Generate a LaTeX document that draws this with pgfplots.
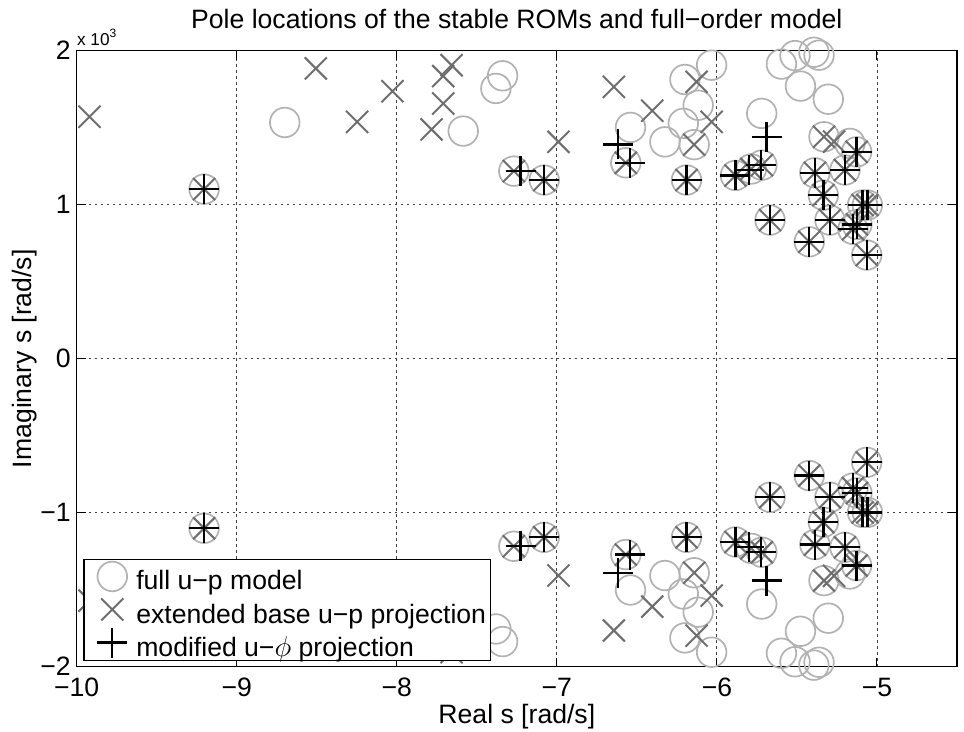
\documentclass[border=0pt]{standalone}
\usepackage{pgfplots}
\pgfplotsset{compat=1.18}
\usepackage{fontspec}
\setmainfont{Liberation Sans}
\definecolor{circgray}{gray}{0.70}
\definecolor{xgray}{gray}{0.43}
\begin{document}
\begin{tikzpicture}
\path[use as bounding box] (-38.35pt,-32.65pt) rectangle (443.65pt,333.35pt);
\begin{axis}[
  at={(0,0)}, anchor=south west,
  scale only axis, width=440.15pt, height=308pt,
  xmin=-10, xmax=-4.5, ymin=-2, ymax=2,
  xtick={-10,-9,-8,-7,-6,-5}, xticklabels={−10,−9,−8,−7,−6,−5},
  ytick={-2,-1,0,1,2}, yticklabels={−2,−1,0,1,2},
  tick align=inside, major tick length=4.5pt,
  tick style={black, line width=0.5pt},
  axis line style={black, line width=0.8pt},
  grid=major,
  major grid style={black!75, line width=0.45pt, dash pattern=on 1.3pt off 1.7pt},
  clip=false,
  ticklabel style={font=\fontsize{13.3}{15}\selectfont, inner sep=0pt},
  xticklabel style={anchor=north, yshift=-5.5pt},
  yticklabel style={anchor=east, xshift=-2.8pt},
  xlabel={Real s [rad/s]},
  xlabel style={at={(0.5,-0.0601)}, anchor=north, inner sep=0pt, font=\fontsize{13.3}{15}\selectfont},
  ylabel={Imaginary s [rad/s]},
  ylabel style={at={(-0.0451,0.5)}, anchor=south, inner sep=0pt, font=\fontsize{13.3}{15}\selectfont},
  legend cell align=left,
  legend style={at={(0.0075,0.0097)}, anchor=south west, draw=black, line width=0.6pt,
    fill=white, font=\fontsize{13.3}{15}\selectfont, inner xsep=2.2pt, inner ysep=0.35pt,
    row sep=0pt, nodes={inner sep=0pt},
    /tikz/every even column/.append style={column sep=0.8pt}},
  legend image code/.code={\path[draw=none,fill=none] (0pt,-5.55pt) rectangle (24pt,10.95pt); \draw[#1] plot coordinates {(12pt,2.7pt)};},
]
\addplot[only marks, mark=o, mark size=7.4pt, circgray, line width=0.85pt] table {
x y
-9.204 1.101
-8.700 1.534
-7.585 1.478
-7.381 1.755
-7.339 1.837
-7.269 1.218
-7.079 1.160
-6.540 1.502
-6.569 1.272
-6.325 1.408
-6.210 1.528
-6.142 1.390
-6.117 1.646
-6.200 1.813
-6.033 1.906
-6.190 1.160
-5.720 1.593
-5.597 1.913
-5.512 1.968
-5.394 1.990
-5.362 1.971
-5.478 1.770
-5.304 1.685
-5.884 1.190
-5.785 1.232
-5.719 1.257
-5.331 1.441
-5.169 1.398
-5.127 1.343
-5.388 1.207
-5.200 1.225
-5.335 1.062
-5.090 0.998
-5.060 0.998
-5.294 0.900
-5.150 0.840
-5.125 0.872
-5.423 0.759
-5.064 0.673
-5.668 0.900
-9.204 -1.101
-8.700 -1.534
-7.585 -1.478
-7.381 -1.755
-7.339 -1.837
-7.269 -1.218
-7.079 -1.160
-6.540 -1.502
-6.569 -1.272
-6.325 -1.408
-6.210 -1.528
-6.142 -1.390
-6.117 -1.646
-6.200 -1.813
-6.033 -1.906
-6.190 -1.160
-5.720 -1.593
-5.597 -1.913
-5.512 -1.968
-5.394 -1.990
-5.362 -1.971
-5.478 -1.770
-5.304 -1.685
-5.884 -1.190
-5.785 -1.232
-5.719 -1.257
-5.331 -1.441
-5.169 -1.398
-5.127 -1.343
-5.388 -1.207
-5.200 -1.225
-5.335 -1.062
-5.090 -0.998
-5.060 -0.998
-5.294 -0.900
-5.150 -0.840
-5.125 -0.872
-5.423 -0.759
-5.064 -0.673
-5.668 -0.900
};
\addlegendentry{full u−p model}
\addplot[only marks, mark=x, mark size=7.8pt, xgray, line width=1pt] table {
x y
-9.920 1.571
-9.204 1.101
-8.506 1.885
-8.248 1.538
-8.027 1.737
-7.658 1.906
-7.710 1.835
-7.710 1.657
-7.783 1.489
-6.990 1.408
-7.269 1.218
-7.079 1.160
-6.644 1.765
-6.404 1.610
-6.569 1.272
-6.142 1.390
-6.127 1.798
-6.033 1.538
-6.190 1.160
-5.884 1.190
-5.785 1.232
-5.719 1.257
-5.331 1.441
-5.268 1.410
-5.127 1.343
-5.388 1.207
-5.200 1.225
-5.335 1.062
-5.090 0.998
-5.060 0.998
-5.294 0.900
-5.150 0.840
-5.125 0.872
-5.423 0.759
-5.064 0.673
-5.668 0.900
-9.920 -1.571
-9.204 -1.101
-8.506 -1.885
-8.248 -1.538
-8.027 -1.737
-7.658 -1.906
-7.710 -1.835
-7.710 -1.657
-7.783 -1.489
-6.990 -1.408
-7.269 -1.218
-7.079 -1.160
-6.644 -1.765
-6.404 -1.610
-6.569 -1.272
-6.142 -1.390
-6.127 -1.798
-6.033 -1.538
-6.190 -1.160
-5.884 -1.190
-5.785 -1.232
-5.719 -1.257
-5.331 -1.441
-5.268 -1.410
-5.127 -1.343
-5.388 -1.207
-5.200 -1.225
-5.335 -1.062
-5.090 -0.998
-5.060 -0.998
-5.294 -0.900
-5.150 -0.840
-5.125 -0.872
-5.423 -0.759
-5.064 -0.673
-5.668 -0.900
};
\addlegendentry{extended base u−p projection}
\addplot[only marks, mark=+, mark size=7.5pt, black, line width=1.15pt] table {
x y
-9.204 1.101
-7.227 1.218
-7.079 1.160
-6.617 1.391
-6.544 1.272
-6.190 1.160
-5.690 1.441
-5.884 1.190
-5.800 1.225
-5.725 1.257
-5.127 1.343
-5.388 1.207
-5.200 1.225
-5.335 1.062
-5.090 0.998
-5.060 0.998
-5.294 0.900
-5.150 0.840
-5.125 0.872
-5.423 0.759
-5.064 0.673
-5.668 0.900
-9.204 -1.101
-7.227 -1.218
-7.079 -1.160
-6.617 -1.391
-6.544 -1.272
-6.190 -1.160
-5.690 -1.441
-5.884 -1.190
-5.800 -1.225
-5.725 -1.257
-5.127 -1.343
-5.388 -1.207
-5.200 -1.225
-5.335 -1.062
-5.090 -0.998
-5.060 -0.998
-5.294 -0.900
-5.150 -0.840
-5.125 -0.872
-5.423 -0.759
-5.064 -0.673
-5.668 -0.900
};
\addlegendentry{modified u−$\phi$ projection}
\node[anchor=base west, inner sep=0pt, font=\fontsize{8.6}{10}\selectfont] at (rel axis cs:0,1.00925) {x 10\textsuperscript{3}};
\node[anchor=base, inner sep=0pt, font=\fontsize{13.3}{15}\selectfont] at (rel axis cs:0.5,1.0364) {Pole locations of the stable ROMs and full−order model};
\end{axis}
\end{tikzpicture}
\end{document}
